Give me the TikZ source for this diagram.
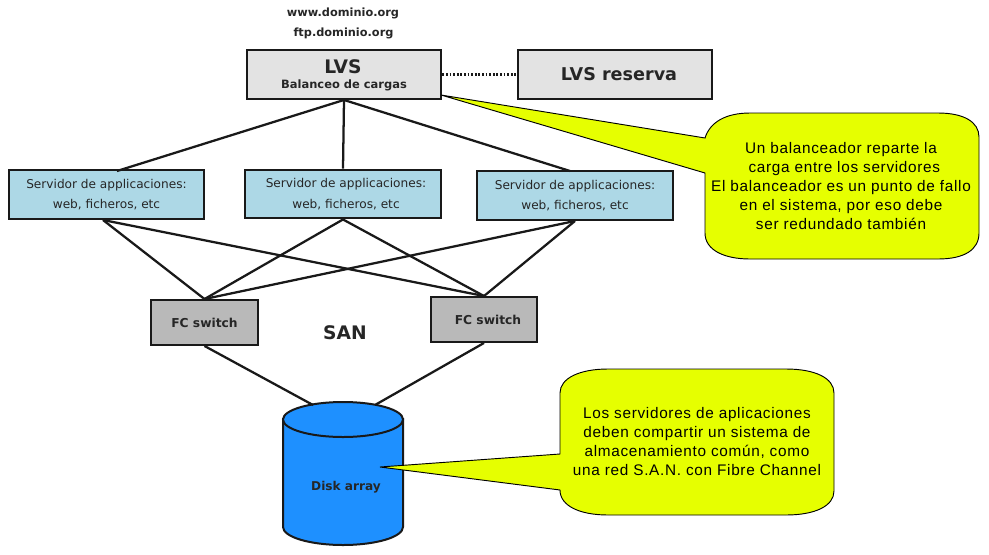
\documentclass[tikz,border=0pt]{standalone}
\usepackage{fontspec}
\setmainfont{DejaVu Sans}
\newfontfamily\callfont[LetterSpace=4.5]{Liberation Sans}
\definecolor{lightblue}{HTML}{ADD8E6}
\definecolor{calloutyellow}{HTML}{E6FF00}
\definecolor{diskblue}{HTML}{1E90FF}
\tikzset{
  x=0.75pt,y=-0.75pt,
  box/.style={draw=black!90,line width=1.7pt,minimum width=#1,inner sep=0pt,align=center,text=black!85},
  lvsbox/.style={box=146pt,minimum height=36.5pt,fill=gray!22},
  srvbox/.style={box=146.5pt,minimum height=36.5pt,fill=lightblue,font=\fontsize{9.1pt}{15.3pt}\selectfont},
  swbox/.style={box=80pt,minimum height=33.5pt,fill=gray!55,font=\bfseries\fontsize{9.2pt}{11pt}\selectfont},
  link/.style={draw=black!90,line width=1.7pt},
  callout/.style={draw=black,line width=0.7pt,fill=calloutyellow},
  calltext/.style={font=\callfont\fontsize{11.5pt}{14.25pt}\selectfont,align=center,text=black,inner sep=0pt},
  toplabel/.style={font=\bfseries\fontsize{8.5pt}{10pt}\selectfont,text=black!85,inner sep=0pt},
  biglabel/.style={font=\bfseries\fontsize{14pt}{16pt}\selectfont,text=black!85,inner sep=0pt},
}
\begin{document}
\begin{tikzpicture}
\useasboundingbox (0,0) rectangle (989,554);
% nodes
\node[toplabel] (www) at (343,13) {www.dominio.org};
\node[toplabel] (ftp) at (343.5,33) {ftp.dominio.org};
\node[lvsbox] (lvs) at (344,74.5) {};
\node[biglabel] (lvst) at (343,67) {LVS};
\node[inner sep=0pt,font=\bfseries\fontsize{8.6pt}{10pt}\selectfont,text=black!85] (lvss) at (344,85) {Balanceo de cargas};
\node[lvsbox,font=\bfseries\fontsize{13.2pt}{16pt}\selectfont] (res) at (615,74.5) {\hspace*{6pt}LVS reserva};
\node[srvbox] (s1) at (106.5,194.5) {Servidor de applicaciones:\\web, ficheros, etc};
\node[srvbox] (s2) at (343,194) {\hspace*{4.5pt}Servidor de applicaciones:\\\hspace*{4.5pt}web, ficheros, etc};
\node[srvbox] (s3) at (575,195.5) {Servidor de applicaciones:\\web, ficheros, etc};
\node[swbox] (f1) at (204.5,322.5) {FC switch};
\node[swbox] (f2) at (484,319.5) {\hspace*{6pt}FC switch};
\node[biglabel] (san) at (345,333) {SAN};
\coordinate (s1t) at (117,171);
\coordinate (s3t) at (570,171);
\coordinate (s1b) at (103,220);
\coordinate (dl) at (313,405);
\coordinate (dr) at (375,405);
% disk
\draw[fill=diskblue,draw=black!90,line width=1.5pt] (283,419) -- (283,527) arc[start angle=180,end angle=360,x radius=60,y radius=-18] -- (403,419) -- cycle;
\draw[fill=diskblue,draw=black!90,line width=1.5pt] (343,419.5) ellipse[x radius=60,y radius=17.5];
\node[inner sep=0pt,font=\bfseries\fontsize{9.1pt}{10pt}\selectfont,text=black!85] (disk) at (346,487) {Disk array};
% links
\draw[link] (lvs.south) -- (s1t);
\draw[link] (lvs.south) -- (s2.north);
\draw[link] (lvs.south) -- (s3t);
\draw[link] (s1b) -- (f1.north);
\draw[link] (s1b) -- (f2.north);
\foreach \s in {s2,s3}{
  \draw[link] (\s.south) -- (f1.north);
  \draw[link] (\s.south) -- (f2.north);
}
\draw[link] (f1.south) -- (dl);
\draw[link] (f2.south) -- (dr);
\draw[draw=black!90,line width=1.7pt,dash pattern=on 1.3pt off 1.4pt] (lvs.east) -- (res.west);
% callouts
\draw[callout] (441,95) -- (705,138)
  .. controls (710,122) and (726,113) .. (750,113) -- (938,113)
  .. controls (964,113) and (979,122) .. (979,137) -- (979,233)
  .. controls (979,250) and (964,259) .. (938,259) -- (750,259)
  .. controls (724,259) and (705,250) .. (705,233) -- (705,173) -- cycle;
\node[calltext] (c1) at (841,186) {Un balanceador reparte la\\\hspace*{5pt}carga entre los servidores\\El balanceador es un punto de fallo\\en el sistema, por eso debe\hspace*{3pt}\\ser redundado también};
\draw[callout] (380,467) -- (560,454) -- (560,393)
  .. controls (560,378) and (580,369) .. (608,369) -- (786,369)
  .. controls (815,369) and (834,378) .. (834,393) -- (834,491)
  .. controls (834,506) and (815,515) .. (786,515) -- (608,515)
  .. controls (580,515) and (560,506) .. (560,490) -- cycle;
\node[calltext] (c2) at (697,442) {Los servidores de aplicaciones\\deben compartir un sistema de\\almacenamiento común, como\\una red S.A.N. con Fibre Channel};
\end{tikzpicture}
\end{document}
